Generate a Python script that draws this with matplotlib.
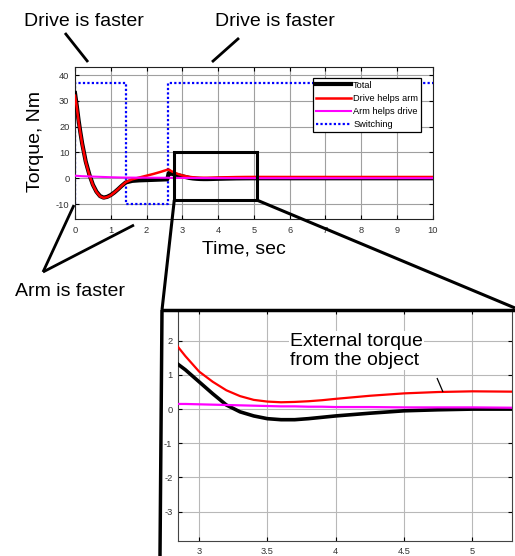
import matplotlib
matplotlib.use("Agg")
import matplotlib.pyplot as plt
from matplotlib.lines import Line2D
from matplotlib.patches import Rectangle

plt.rcParams['font.family'] = ['Liberation Sans', 'DejaVu Sans']
plt.rcParams['axes.unicode_minus'] = False

# ---------------- data ----------------
t = [0, 0.05, 0.1, 0.15, 0.2, 0.3, 0.4, 0.5, 0.6, 0.7, 0.8, 0.9, 1.0, 1.1, 1.2,
     1.3, 1.42, 1.6, 1.8, 2.0, 2.2, 2.4, 2.58, 2.62, 2.7, 2.8, 2.85, 2.9, 3.0,
     3.1, 3.2, 3.3, 3.4, 3.5, 3.6, 3.7, 3.8, 3.9, 4.0, 4.25, 4.5, 4.75, 5.0,
     5.3, 6, 7, 8, 9, 10]
total = [33, 28, 22.5, 17.8, 13.5, 6.5, 1.5, -2.5, -5.2, -6.9, -7.5, -7.2, -6.5,
         -5.5, -4.3, -3.0, -1.6, -1.0, -0.8, -0.7, -0.6, -0.5, -0.4, 2.0, 1.75,
         1.45, 1.3, 1.15, 0.8, 0.45, 0.12, -0.08, -0.2, -0.28, -0.31, -0.31,
         -0.28, -0.24, -0.2, -0.12, -0.05, -0.02, 0, 0, 0, 0, 0, 0, 0]
drive_helps_arm = [32, 27.5, 22, 17.5, 13.3, 6.3, 1.3, -2.6, -5.3, -7.0, -7.6,
                   -7.3, -6.6, -5.5, -4.3, -3.0, -1.5, -0.4, 0.3, 1.0, 1.7, 2.5,
                   3.3, 3.4, 2.7, 2.1, 1.8, 1.55, 1.1, 0.8, 0.55, 0.38, 0.27,
                   0.22, 0.2, 0.21, 0.23, 0.26, 0.3, 0.39, 0.46, 0.5, 0.52, 0.51,
                   0.5, 0.5, 0.5, 0.5, 0.5]
arm_helps_drive = [1.0, 0.95, 0.9, 0.85, 0.8, 0.75, 0.7, 0.65, 0.6, 0.55, 0.5,
                   0.45, 0.4, 0.37, 0.33, 0.3, 0.27, 0.25, 0.23, 0.22, 0.21, 0.2,
                   0.2, 0.19, 0.18, 0.16, 0.15, 0.15, 0.14, 0.13, 0.12, 0.11, 0.1,
                   0.09, 0.08, 0.08, 0.07, 0.07, 0.06, 0.06, 0.05, 0.05, 0.05,
                   0.04, 0.04, 0.04, 0.04, 0.04, 0.04]
t_switch = [0, 0, 1.42, 1.42, 2.6, 2.6, 10]
switching = [-10, 37, 37, -10, -10, 37, 37]

series_labels = ['Total', 'Drive helps arm', 'Arm helps drive', 'Switching']
main_xticks = list(range(0, 11))
main_yticks = [-10, 0, 10, 20, 30, 40]
inset_xticks = [3, 3.5, 4, 4.5, 5]
inset_xticklabels = ['3', '3.5', '4', '4.5', '5']
inset_yticks = [-3, -2, -1, 0, 1, 2]

W, H = 515, 556
fig = plt.figure(figsize=(W / 100, H / 100), dpi=100)


def fx(x):
    return x / W


def fy(y):
    return 1 - y / H


tick_color = '#333333'

# ---------------- main axes ----------------
ax = fig.add_axes([fx(75), fy(219.3), (432.7 - 75) / W, (219.3 - 67.3) / H])
ax.plot(t, total, color='black', lw=3.0, label=series_labels[0], zorder=3)
ax.plot(t, drive_helps_arm, color='#ff0000', lw=1.8, label=series_labels[1], zorder=4)
ax.plot(t, arm_helps_drive, color='#ff00ff', lw=1.5, label=series_labels[2], zorder=5)
ax.plot(t_switch, switching, color='#0000ff', lw=1.6, ls=(0, (1, 1)),
        label=series_labels[3], zorder=2)
ax.set_xlim(0, 10)
ax.set_ylim(-15.9, 43)
ax.set_xticks(main_xticks)
ax.set_yticks(main_yticks)
ax.grid(True, color='#a0a0a0', lw=0.8)
ax.set_axisbelow(True)
ax.tick_params(direction='in', length=3, labelsize=6.7, labelcolor=tick_color,
               top=True, right=True, pad=4)
ax.tick_params(axis='x', pad=5)
for s in ax.spines.values():
    s.set_color('#222222')
    s.set_linewidth(0.8)
leg = ax.legend(loc='upper right', bbox_to_anchor=(0.967, 0.93), fontsize=6.7,
                frameon=True, fancybox=False, edgecolor='black', framealpha=1,
                handlelength=3.8, handletextpad=0.2, labelspacing=0.45,
                borderpad=0.3, borderaxespad=0)
leg.get_frame().set_linewidth(0.9)
leg.set_zorder(10)

# zoom rectangle
ax.add_patch(Rectangle((2.78, -8.4), 2.3, 18.4, fill=False, ec='black', lw=2.2,
                       zorder=6, clip_on=False))

fig.text(fx(244), fy(249), 'Time, sec', fontsize=14, ha='center', va='center')
fig.text(fx(35), fy(141), 'Torque, Nm', fontsize=14, ha='center', va='center',
         rotation=90)

# ---------------- inset axes ----------------
ax2 = fig.add_axes([fx(178), fy(541), (512 - 178) / W, (541 - 310) / H])
ax2.plot(t, total, color='black', lw=2.6, zorder=3)
ax2.plot(t, drive_helps_arm, color='#ff0000', lw=1.6, zorder=4)
ax2.plot(t, arm_helps_drive, color='#ff00ff', lw=1.6, zorder=5)
ax2.set_xlim(2.846, 5.29)
ax2.set_ylim(-3.86, 2.9)
ax2.set_xticks(inset_xticks)
ax2.set_xticklabels(inset_xticklabels)
ax2.set_yticks(inset_yticks)
ax2.grid(True, color='#b8b8b8', lw=0.8)
ax2.set_axisbelow(True)
ax2.tick_params(direction='in', length=3, labelsize=6.7, labelcolor=tick_color,
                top=True, right=True, pad=4)
for s in ax2.spines.values():
    s.set_color('#444444')
    s.set_linewidth(0.8)

ax2.text(3.665, 1.71, 'External torque\nfrom the object', fontsize=14,
         ha='left', va='center', linespacing=1.15, zorder=7,
         bbox=dict(facecolor='white', edgecolor='none', pad=1))

# ---------------- annotation lines (figure pixels) ----------------
def fig_line(p0, p1, lw=2.0):
    fig.add_artist(Line2D([fx(p0[0]), fx(p1[0])], [fy(p0[1]), fy(p1[1])],
                          color='black', lw=lw, transform=fig.transFigure,
                          solid_capstyle='butt'))


fig_line((65, 33), (88, 62))
fig_line((239, 38), (212, 62))
fig_line((43, 272), (74, 205))
fig_line((43, 272), (134, 225))
# zoom connectors
fig_line((174.3, 200), (162, 310), lw=2.2)
fig_line((256.7, 200), (515, 308), lw=2.2)
# inset frame
fig_line((161, 310), (515, 310), lw=2.5)
fig_line((162, 310), (160, 556), lw=2.5)
# external torque pointer
fig_line((437, 378), (443, 392), lw=0.9)

fig.text(fx(84), fy(22), 'Drive is faster', fontsize=14, ha='center', va='center')
fig.text(fx(275), fy(22), 'Drive is faster', fontsize=14, ha='center', va='center')
fig.text(fx(70), fy(292), 'Arm is faster', fontsize=14, ha='center', va='center')

fig.savefig('out.png', dpi=100)
